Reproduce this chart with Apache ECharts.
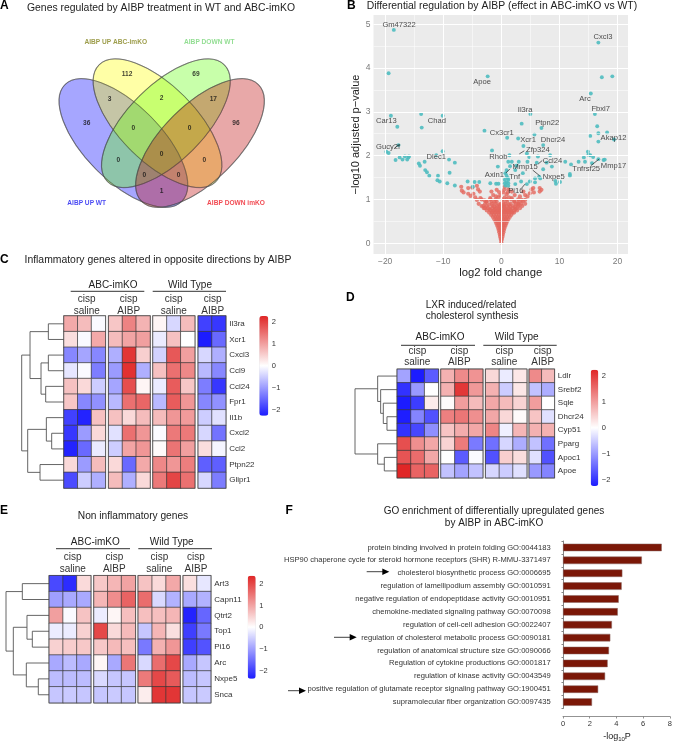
<!DOCTYPE html>
<html><head><meta charset="utf-8">
<style>html,body{margin:0;padding:0;background:#fff}#c{width:675px;height:743px}</style>
<script src="https://cdn.jsdelivr.net/npm/echarts@6/dist/echarts.min.js"></script>
</head><body><div id="c"></div>
<script>
// ---------- DATA ----------
const vennSets = [
  ['AIBP UP WT', 123.4, 143, '#0000ff', -1],
  ['AIBP UP ABC-imKO', 157.5, 123.2, '#ffff00', -1],
  ['AIBP DOWN WT', 165.9, 123.2, '#62ff0c', 1],
  ['AIBP DOWN imKO', 200, 143, '#bd0606', 1]
];
const vennCounts = [[86.7,122.7,36],[127,73.7,112],[109.7,99.3,3],[196,73.7,69],[161.7,97.7,2],[213.3,99.3,17],[236,122.7,96],
  [133.3,128.3,0],[189.7,128.3,0],[118.3,160,0],[161.7,154,0],[204.3,160,0],[144.3,174.7,0],[178.7,174.7,0],[161.7,191.3,1]];
const vennNames = [[115.7,42.3,'AIBP UP ABC-imKO','#85851f'],[209.3,42.3,'AIBP DOWN WT','#78d678'],[86.7,203,'AIBP UP WT','#1a1af0'],[236,203,'AIBP DOWN imKO','#ee1c25']];

const volcanoTeal = [[-18.5,4.87],[-19.4,3.88],[-19,2.91],[-17.9,2.66],[-13.8,2.95],[-13.7,2.64],[-10.1,2.91],[-2.9,2.57],[-2.35,3.81],
 [16.7,4.58],[17.3,3.79],[19.1,3.81],[15.4,3.42],[16.1,2.95],[5,2.95],[3.5,2.73],[6.9,2.63],[5.7,2.48],[1,2.41],[2.9,2.39],[3.8,2.22],[7.2,2.24],
 [16.5,2.67],[16.7,2.51],[18.2,2.53],[15.3,2.45],[16.7,2.32],[19.4,2.37],[-1.6,2.12],[1.4,2.01],[-10.1,2.1],[-17.7,2.24],[-19.8,2.09],[-19.4,2.06],
 [-18.2,1.9],[-17.5,1.96],[-17,1.91],[-16.6,1.98],[-16.2,1.91],[-16,1.96],[-15.9,1.98],[-13.2,1.86],[-14.2,1.82],[-14,1.77],[-13.1,1.67],[-12.8,1.62],
 [-12.4,1.54],[-11.2,2.01],[-9,1.91],[-8,1.84],[-8.9,1.61],[-10.9,1.54],[-11,1.44],[-10.6,1.41],[-9.3,1.37],[-8,1.32],[-5.8,1.41],[-4.6,1.4],[-3.8,1.4],
 [-4.9,1.29],[-1.9,1.37],[-.9,1.36],[-.5,1.36],[-.6,1.75],[1.2,1.86],[1.8,1.86],[3,1.86],[4.5,1.86],[4.8,1.97],[6.3,1.98],[4.4,2.05],[8.4,2.01],[6.1,1.84],
 [7.8,1.84],[8.7,1.75],[7.2,1.69],[11,1.86],[12,1.8],[13.3,1.86],[14.2,1.96],[14.9,2.09],[15,2.02],[15.3,2.01],[15.8,1.97],[14.4,1.86],[15.6,1.83],[16.7,1.92],
 [17.6,1.9],[17.8,1.91],[11.8,1.58],[11.8,1.54],[9.3,1.42],[9.4,1.36],[10.1,1.4],[5.8,1.48],[6.5,1.52],[6.7,1.48],[5.8,1.39],[4.9,1.41],[4.4,1.35],[3.7,1.6],
 [3.4,1.41],[2.6,1.77],[2.4,1.67],[1.5,1.76],[.9,1.67],[.7,1.6],[.9,1.54],[.6,1.45],[1.2,1.45],[.9,1.39],[.6,1.37],[1.2,1.37],[1.1,1.49],[2.4,1.35],[.7,1.32],[1.2,1.31]];
const volcanoRed = [[-6.9,1.29],[-6.8,1.2],[-5.7,1.26],[-5,1.27],[-4.2,1.31],[-6.5,1.16],[-5.7,1.13],[-5.3,1.08],[-4.8,1.13],[-4,1.23],[-3.7,1.18],[-4.5,1.05],
 [-4.2,.99],[-3.4,1],[-3.1,.85],[-2.8,.8],[-2.5,.95],[-1.9,1.03],[-1.7,1.18],[-1.4,1.1],[-.8,1.22],[-.9,1.07],[.6,1.29],[.5,1.22],[1.2,1.23],[1.8,1.18],[2.3,1.1],
 [3.2,1.07],[4.1,1.1],[5.2,1.23],[5.5,1.26],[5.6,1.16],[6.6,1.26],[6.6,1.18],[3.8,1.18],[3.5,.99],[2.9,.9],[2.3,.95],[1.8,1.03],[4.9,1.14],[4.5,1.07],[4.1,.99],[6.9,1.22],
 [0,.02],[0,.06],[-.1,.1],[.1,.1],[-.2,.15],[.2,.15],[-.25,.2],[0,.2],[.25,.2],[-.35,.25],[0,.25],[.35,.25],[-.45,.3],[-.15,.3],[.15,.3],[.45,.3],
 [-.55,.35],[-.2,.35],[.2,.35],[.55,.35],[-.7,.4],[-.35,.4],[0,.4],[.35,.4],[.7,.4],[-.85,.45],[-.5,.45],[-.15,.45],[.15,.45],[.5,.45],[.85,.45],
 [-1,.5],[-.65,.5],[-.3,.5],[0,.5],[.3,.5],[.65,.5],[1,.5],[-1.2,.55],[-.8,.55],[-.4,.55],[0,.55],[.4,.55],[.8,.55],[1.2,.55],
 [-1.45,.6],[-1,.6],[-.6,.6],[-.2,.6],[.2,.6],[.6,.6],[1,.6],[1.45,.6],[-1.75,.65],[-1.3,.65],[-.85,.65],[-.4,.65],[0,.65],[.4,.65],[.85,.65],[1.3,.65],[1.75,.65],
 [-2.1,.7],[-1.6,.7],[-1.1,.7],[-.6,.7],[-.1,.7],[.4,.7],[.9,.7],[1.4,.7],[1.9,.7],[2.2,.7],[-2.5,.75],[-1.9,.75],[-1.3,.75],[-.7,.75],[-.2,.75],[.5,.75],[1,.75],[1.6,.75],[2.2,.75],[2.7,.75],
 [-3,.8],[-2.3,.8],[-1.6,.8],[-.9,.8],[-.2,.8],[.6,.8],[1.3,.8],[2,.8],[2.6,.8],[3.2,.8],[-3.4,.85],[-2.5,.85],[-1.5,.85],[-.7,.85],[.2,.85],[1,.85],[2,.85],[2.9,.85],[3.6,.85],
 [-3.9,.9],[-2.8,.9],[-1.6,.9],[-1,.9],[-.1,.9],[.7,.9],[1.6,.9],[2.5,.9],[3.4,.9],[4.1,.9],[-2.6,.95],[-1.7,.95],[-.8,.95],[.3,.95],[1,.95],[2.2,.95],[3,.95],
 [-1.9,1],[-1,1],[.2,1],[.9,1],[1.7,1],[2.9,1],[-.5,1.05],[.6,1.05],[1.3,1.05],[-.2,1.1],[.9,1.12],[-.4,1.17],[.3,1.16],[1.1,1.16],
 [-1.5,.72],[-.9,.72],[-.3,.72],[.2,.72],[.7,.72],[1.2,.72],[1.7,.72],[-2,.78],[-1.1,.78],[-.4,.78],[.2,.78],[.8,.78],[1.5,.78],[2.4,.78],
 [-1.2,.84],[-.3,.84],[.5,.84],[1.5,.84],[2.4,.84],[-2.1,.88],[-.4,.88],[.4,.88],[1.3,.88],[3,.88],[-3.6,1.03],[-2.9,.98],[-1.2,.95],[3.7,.96]];
const volcanoLabels = [['Gm47322',-17.6,4.98],['Cxcl3',17.5,4.7],['Apoe',-3.3,3.69],['Arc',14.4,3.29],['Il3ra',4.1,3.05],['Fbxl7',17.1,3.07],['Car13',-19.8,2.79],['Chad',-11.1,2.79],
 ['Ptpn22',7.9,2.74],['Cx3cr1',.06,2.52],['Akap12',19.3,2.4],['Xcr1',4.6,2.35],['Dhcr24',8.9,2.35],['Gucy2f',-19.5,2.19],['Zfp324',6.3,2.12],['Rhob',-.5,1.98],['Dlec1',-11.2,1.98],
 ['Ccl24',8.8,1.89],['Mmp15',4.1,1.75],['Mmp17',19.3,1.77],['Tnfrsf25',14.6,1.7],['Axin1',-1.2,1.56],['Tnf',2.3,1.51],['Nxpe5',9,1.52],['Pi16',2.5,1.19]];
const volcanoSegments = [[3.1,2.04,3.95,2.11],[5.4,1.67,6.6,1.54],[.75,1.6,1.5,1.7],[6.35,1.81,7.05,1.89],[15.4,1.77,16.8,1.92],[4.07,1.35,3.5,1.26],[-18.3,2.18,-17.6,2.25]];
const volcanoXTicks = [-20,-10,0,10,20];
const volcanoXMinor = [-15,-5,5,15];
const volcanoYTicks = [0,1,2,3,4,5];
const volcanoYMinor = [.5,1.5,2.5,3.5,4.5];

const blockSizes = [3,3,3,2];
const cGenes = ['Il3ra','Xcr1','Cxcl3','Ccl9','Ccl24','Fpr1','Il1b','Cxcl2','Ccl2','Ptpn22','Glipr1'];
const cValues = [
 [.9,.7,-.05,.6,1.3,.8,.1,-.4,.7,-1.9,-2],
 [.35,-.05,.9,.7,.95,1,-.2,.65,0,-2.3,-1.5],
 [-1.2,-.9,-1.2,-.8,2.1,.5,-.45,1.75,1,-.4,-.8],
 [-.25,-.05,-1.3,-1,2.15,-.8,.65,1.5,1.25,-.7,-1.2],
 [.65,.4,-.5,-.9,1.85,.1,-.2,1.7,.6,-1.3,-2],
 [.6,-1.2,-1.1,-.7,1.5,1.6,-.7,1.7,1.1,-1.2,-1.1],
 [-1.9,-2.2,.65,.65,.4,.7,.7,1.1,1.05,-.5,-.3],
 [-2,-1,.4,-.3,1.5,1.1,-.05,1.4,1.4,-.4,-1.4],
 [-2.2,-1.5,-.2,-.5,.95,1.1,.05,1.45,1,.35,-.1],
 [.4,-1,.7,.4,-1.5,.9,1.25,1.1,1.35,-1.6,-1.6],
 [-1.8,-.5,-.8,.7,-.8,.4,1.4,1.95,1.5,-.4,-1.3]];
const cTree = [[0,1,47],[2,3,47],[4,5,55],[-2,-3,69],[-1,-4,102],[7,8,37],[6,-6,53],[9,10,72],[-7,-8,109],[-5,-9,127]];

const dGenes = ['Ldlr','Srebf2','Sqle','Dhcr24','Cyp51','Pparg','Apoc1','Apoe'];
const dValues = [
 [-.9,-2.3,-1.6,.8,1.2,1.1,.4,-.2,.25,1.2,.7],
 [-2,-1,0,.8,2.05,1.05,.8,-.5,.25,-.6,-.8],
 [-2.3,-1.9,.2,.05,1,.7,.9,.7,.45,1,0],
 [-2.2,-1.2,-1.7,1.3,1.4,1.15,.9,.4,.05,.6,-.3],
 [-2,-1.8,-1.1,.6,.85,.9,1.25,-.15,.75,.8,.8],
 [1.8,1.15,.9,.45,1.35,-1.3,-1.4,-.4,-.8,-.6,-1.4],
 [1.75,1.5,.9,0,-1.6,-.05,-1.7,.5,.35,-.3,-1.7],
 [2.25,1.6,1.6,-.6,-.9,-.6,-.4,-.5,-.3,-1,-1.2]];
const dTree = [[3,4,31],[2,-1,42],[1,-2,50],[0,-3,59],[6,7,39],[5,-5,59],[-4,-6,127]];

const eGenes = ['Art3','Capn11','Qtrt2','Top1','Pi16','Arc','Nxpe5','Snca'];
const eValues = [
 [-1.9,-2.2,.4,.6,.8,1,.65,.4,.95,.35,-.25],
 [-1,-.9,-.9,.8,1.25,1.7,1.6,-.4,-.8,-.9,-.8],
 [1.05,-.05,.65,-.2,.1,.7,.7,.7,.8,-2.3,-1.6],
 [-.2,-.2,.5,2,.4,.75,-.6,.8,.35,-2,-1.4],
 [.5,.55,.6,.6,.75,.7,-1.4,.85,1.15,-2,-1.8],
 [-.9,-.7,-.9,.1,-.9,1.5,-.4,1.6,2,-.9,-.6],
 [-.7,-.7,-.7,-.4,-.6,-.6,1.45,2,1.8,-.7,-.6],
 [-.6,-.55,-.6,-.6,-.55,-.6,.2,2.2,2.2,-.6,-.55]];
const eTree = [[0,1,81],[3,4,51],[2,-2,67],[6,7,33],[5,-4,69],[-3,-5,108],[-1,-6,130]];

const colorbarTicks = [-2,-1,0,1,2];
const goTerms = ['protein binding involved in protein folding GO:0044183','HSP90 chaperone cycle for steroid hormone receptors (SHR) R-MMU-3371497','cholesterol biosynthetic process GO:0006695',
 'regulation of lamellipodium assembly GO:0010591','negative regulation of endopeptidase activity GO:0010951','chemokine-mediated signaling pathway GO:0070098','regulation of cell-cell adhesion GO:0022407',
 'regulation of cholesterol metabolic process GO:0090181','regulation of anatomical structure size GO:0090066','Regulation of cytokine productions GO:0001817','regulation of kinase activity GO:0043549',
 'positive regulation of glutamate receptor signaling pathway GO:1900451','supramolecular fiber organization GO:0097435'];
const goValues = [7.39,5.9,4.44,4.39,4.17,4.1,3.66,3.54,3.44,3.34,3.15,2.63,2.17];

// ---------- BUILD ----------
const FONT = '"Liberation Sans", Arial, sans-serif';
const grid=[], xAxis=[], yAxis=[], series=[], visualMap=[], graphic=[];
const minus = v => String(v).replace('-', '\u2212');
function txt(x,y,text,size,opt={}){ graphic.push({type:'text',x,y,silent:true,style:{text,fill:opt.fill||'#222',
  font:(opt.bold?'bold ':'')+size+'px '+FONT,textAlign:opt.align||'left',textVerticalAlign:'middle'}}); }
function hideAxis(extra){ return Object.assign({show:false},extra); }
function addGrid(g,x,y){ const i=grid.length; grid.push(Object.assign({containLabel:false},g));
  xAxis.push(Object.assign({gridIndex:i},x)); yAxis.push(Object.assign({gridIndex:i},y)); return i; }

// Panel A
const va = addGrid({left:0,top:0,width:335,height:250},hideAxis({type:'value',min:0,max:335}),hideAxis({type:'value',min:0,max:250,inverse:true}));
series.push({type:'custom',xAxisIndex:va,yAxisIndex:va,silent:true,z:2,encode:{x:1,y:2},data:vennSets.map(s=>[s[0],s[1],s[2],s[3],s[4]]),
  renderItem(params,api){ const i=params.dataIndex, s=vennSets[i], c=api.coord([s[1],s[2]]);
    return {type:'ellipse',x:c[0],y:c[1],rotation:s[4]*Math.PI/4,shape:{cx:0,cy:0,rx:82.6,ry:38},
      style:{fill:s[3],opacity:.35,stroke:'#000',lineWidth:1.1}}; }});
series.push({type:'custom',xAxisIndex:va,yAxisIndex:va,silent:true,z:3,encode:{x:1,y:2},data:vennSets.map(s=>[s[0],s[1],s[2]]),
  renderItem(params,api){ const i=params.dataIndex, s=vennSets[i], c=api.coord([s[1],s[2]]);
    return {type:'ellipse',x:c[0],y:c[1],rotation:s[4]*Math.PI/4,shape:{cx:0,cy:0,rx:82.6,ry:38},
      style:{fill:'none',stroke:'#555',opacity:.7,lineWidth:.8}}; }});
series.push({type:'scatter',xAxisIndex:va,yAxisIndex:va,symbolSize:0,silent:true,z:5,data:vennCounts.map(v=>({value:v})),
  label:{show:true,position:'inside',formatter:p=>String(p.value[2]),fontSize:6.6,fontWeight:'bold',color:'#111',fontFamily:FONT}});
series.push({type:'scatter',xAxisIndex:va,yAxisIndex:va,symbolSize:0,silent:true,z:5,data:vennNames.map(v=>({value:v.slice(0,3),label:{color:v[3]}})),
  label:{show:true,position:'inside',formatter:p=>p.value[2],fontSize:6.6,fontWeight:'bold',fontFamily:FONT}});

// Panel B
const vg = addGrid({left:373.5,top:15,width:254.5,height:239,show:true,backgroundColor:'#ebebeb',borderWidth:0},
 {type:'value',min:-22,max:21.8,name:'log2 fold change',nameLocation:'middle',nameGap:12,nameTextStyle:{fontSize:11.3,color:'#222',fontFamily:FONT},
  splitLine:{show:false},axisLine:{show:false},axisTick:{show:true,length:2,lineStyle:{color:'#777'},customValues:volcanoXTicks},
  axisLabel:{customValues:volcanoXTicks,formatter:minus,fontSize:8.5,color:'#7a7a7a',margin:3,fontFamily:FONT}},
 {type:'value',min:-.245,max:5.21,name:'\u2212log10 adjusted p\u2212value',nameLocation:'middle',nameGap:8,nameTextStyle:{fontSize:11,color:'#222',fontFamily:FONT},
  splitLine:{show:false},axisLine:{show:false},axisTick:{show:true,length:2,lineStyle:{color:'#777'},customValues:volcanoYTicks},
  axisLabel:{customValues:volcanoYTicks,fontSize:8.5,color:'#7a7a7a',margin:3,fontFamily:FONT}});
const ml=(w,data)=>({silent:true,symbol:'none',animation:false,label:{show:false},lineStyle:{color:'#fff',width:w,type:'solid'},data});
series.push({type:'scatter',xAxisIndex:vg,yAxisIndex:vg,data:[],z:1,silent:true,
  markLine:ml(.5,volcanoXMinor.map(v=>({xAxis:v})).concat(volcanoYMinor.map(v=>({yAxis:v}))))});
series.push({type:'scatter',xAxisIndex:vg,yAxisIndex:vg,data:[],z:1,silent:true,
  markLine:ml(1.1,volcanoXTicks.map(v=>({xAxis:v})).concat(volcanoYTicks.map(v=>({yAxis:v}))))});
series.push({type:'scatter',xAxisIndex:vg,yAxisIndex:vg,data:volcanoRed,symbolSize:4.2,itemStyle:{color:'#e4675d'},silent:true,z:3});
series.push({type:'scatter',xAxisIndex:vg,yAxisIndex:vg,data:volcanoTeal,symbolSize:3.9,itemStyle:{color:'#4fbcc0',opacity:.9},silent:true,z:4});
series.push({type:'lines',coordinateSystem:'cartesian2d',xAxisIndex:vg,yAxisIndex:vg,silent:true,z:5,polyline:false,
  data:volcanoSegments.map(s=>({coords:[[s[0],s[1]],[s[2],s[3]]]})),lineStyle:{color:'#222',width:.7,opacity:1}});
series.push({type:'scatter',xAxisIndex:vg,yAxisIndex:vg,symbolSize:0,silent:true,z:6,data:volcanoLabels.map(l=>({value:[l[1],l[2]],name:l[0]})),
  label:{show:true,position:'inside',formatter:p=>p.name,fontSize:7.6,color:'#222',fontFamily:FONT}});

// Heatmap panels
function heatPanel(c){
  const n=c.genes.length; const idx=[]; let col=0;
  c.blocks.forEach((b,bi)=>{
    const size=blockSizes[bi]; const last=bi===c.blocks.length-1;
    const g=addGrid({left:b[0],top:c.top,width:b[1]-b[0],height:c.height,show:true,borderColor:'#8a8a8a',borderWidth:1.6,backgroundColor:'#fff'},
      hideAxis({type:'category',data:Array.from({length:size},(_,i)=>i)}),
      {type:'category',data:c.genes,inverse:true,position:'right',show:last,axisLine:{show:false},axisTick:{show:false},
       axisLabel:{show:last,fontSize:8,color:'#333',margin:3.5,fontFamily:FONT}});
    const data=[]; for(let r=0;r<n;r++) for(let k=0;k<size;k++) data.push([k,r,c.values[r][col+k]]);
    idx.push(series.length);
    series.push({type:'heatmap',xAxisIndex:g,yAxisIndex:g,data,silent:true,z:3,itemStyle:{borderColor:'#3a3a3a',borderWidth:.7},emphasis:{disabled:true}});
    col+=size;
  });
  // dendrogram
  const dg=addGrid({left:c.treeLeft,top:c.top,width:c.blocks[0][0]-c.treeLeft,height:c.height},
    hideAxis({type:'value',min:0,max:c.treeMax,inverse:true}),hideAxis({type:'value',min:0,max:n,inverse:true}));
  const merged=[]; const pos=ref=>ref>=0?[0,ref+.5]:merged[-ref-1];
  const paths=c.tree.map(m=>{const a=pos(m[0]),b=pos(m[1]);merged.push([m[2],(a[1]+b[1])/2]);
    return {coords:[a,[m[2],a[1]],[m[2],b[1]],b]};});
  series.push({type:'lines',coordinateSystem:'cartesian2d',polyline:true,xAxisIndex:dg,yAxisIndex:dg,silent:true,data:paths,lineStyle:{color:'#555',width:.9,opacity:1}});
  // colour bar
  visualMap.push({type:'continuous',min:-c.barMax,max:c.barMax,seriesIndex:idx,dimension:2,calculable:false,realtime:false,
    inRange:{color:['#1c1cff','#ffffff','#e02626']},left:c.bar[0],top:c.bar[2],itemWidth:c.bar[1]-c.bar[0],itemHeight:c.bar[3]-c.bar[2],padding:0,text:null,showLabel:false,hoverLink:false});
  addGrid({left:c.bar[0],top:c.bar[2],width:c.bar[1]-c.bar[0],height:c.bar[3]-c.bar[2]},
    hideAxis({type:'value',min:0,max:1}),
    {type:'value',position:'right',min:-c.barMax,max:c.barMax,splitLine:{show:false},axisLine:{show:false},axisTick:{show:false,customValues:colorbarTicks},
     axisLabel:{customValues:colorbarTicks,formatter:minus,fontSize:7.5,color:'#333',margin:3.5,fontFamily:FONT}});
  // headers
  c.headers.forEach(h=>{ txt(h[0],c.h1,h[1],10,{align:'center'});
    graphic.push({type:'line',silent:true,shape:{x1:h[2],y1:c.hl,x2:h[3],y2:c.hl},style:{stroke:'#333',lineWidth:1}}); });
  c.groups.forEach((g,i)=>{ txt(g,c.h2,'cisp',10,{align:'center',fill:'#333'}); txt(g,c.h3,i%2?'AIBP':'saline',10,{align:'center',fill:'#333'}); });
}
heatPanel({genes:cGenes,values:cValues,tree:cTree,treeMax:127,treeLeft:21.7,top:316,height:172,
 blocks:[[64,105.3],[108.7,150],[153,194.7],[198.3,225.7]],bar:[259.3,268.3,316,415.7],barMax:2.27,
 headers:[[113,'ABC-imKO',70.7,144.3],[190,'Wild Type',152.7,226]],groups:[86.7,128.7,173.7,212.7],h1:285,hl:291.3,h2:299.3,h3:311});
heatPanel({genes:dGenes,values:dValues,tree:dTree,treeMax:127,treeLeft:355,top:369.3,height:108.4,
 blocks:[[397.3,438.3],[441,482.7],[485.7,526.7],[529.3,554.3]],bar:[590.7,598.3,369.7,486],barMax:2.22,
 headers:[[440,'ABC-imKO',401,475],[516.7,'Wild Type',483.3,556.7]],groups:[417.3,459.3,504.3,542.7],h1:337.7,hl:345.3,h2:351,h3:362.3});
heatPanel({genes:eGenes,values:eValues,tree:eTree,treeMax:130,treeLeft:6,top:575.7,height:127,
 blocks:[[49.3,90.7],[94,135.3],[138.3,180],[183.3,210.7]],bar:[247.7,255.7,575.7,678.7],barMax:2.37,
 headers:[[95.3,'ABC-imKO',56,130],[171.7,'Wild Type',138.3,212]],groups:[72.7,114.3,159.3,196],h1:542,hl:548.7,h2:557.7,h3:569});

// Panel F
const bg=addGrid({left:563,top:541,width:109.3,height:167.5},
 {type:'value',min:0,max:8,interval:2,offset:8,splitLine:{show:false},axisLine:{show:true,lineStyle:{color:'#777',width:.8}},axisTick:{show:true,length:2,lineStyle:{color:'#777',width:.8}},
  axisLabel:{fontSize:7.5,color:'#333',margin:3,fontFamily:FONT}},
 {type:'category',data:goTerms,inverse:true,offset:11.3,axisLine:{show:true,lineStyle:{color:'#666',width:.8}},axisTick:{show:true,length:1.5,lineStyle:{color:'#666',width:.8}},
  axisLabel:{fontSize:7.6,color:'#333',margin:1,interval:0,fontFamily:FONT}});
series.push({type:'bar',xAxisIndex:bg,yAxisIndex:bg,data:goValues,barWidth:7.5,silent:true,itemStyle:{color:'#7b1707',borderColor:'#8a6a66',borderWidth:.5}});

// Titles and annotation
txt(27,8,'Genes regulated by AIBP treatment in WT and ABC-imKO',10.4);
txt(366.7,6.5,'Differential regulation by AIBP (effect in ABC-imKO vs WT)',10.4);
txt(24.5,260,'Inflammatory genes altered in opposite directions by AIBP',10.4);
txt(425.7,305,'LXR induced/related',10); txt(425.7,316.7,'cholesterol synthesis',10);
txt(133,516,'Non inflammatory genes',10.2,{align:'center'});
txt(494,511.3,'GO enrichment of differentially upregulated genes',10,{align:'center'});
txt(494,523,'by AIBP in ABC-imKO',10,{align:'center'});
[['A',0,6],['B',347,6],['C',0,260],['D',346,297.7],['E',0,511],['F',285.5,511]].forEach(l=>txt(l[1],l[2],l[0],12,{bold:true,fill:'#000'}));
graphic.push({type:'text',x:617,y:737,silent:true,style:{rich:{a:{fontSize:9,fontFamily:FONT,fill:'#222'},s:{fontSize:6,fontFamily:FONT,fill:'#222',verticalAlign:'bottom',padding:[5,0,0,0]}},text:'{a|-log}{s|10}{a|P}',textAlign:'center',textVerticalAlign:'middle'}});
[[366.7,389.3,571.7],[334,356.7,637.3],[288,306,690.7]].forEach(a=>{
  graphic.push({type:'line',silent:true,shape:{x1:a[0],y1:a[2],x2:a[1]-6,y2:a[2]},style:{stroke:'#111',lineWidth:.8}});
  graphic.push({type:'polygon',silent:true,shape:{points:[[a[1]-7,a[2]-3.2],[a[1],a[2]],[a[1]-7,a[2]+3.2]]},style:{fill:'#000'}});
});

const chart=echarts.init(document.getElementById('c'),null,{renderer:'canvas'});
chart.setOption({animation:false,backgroundColor:'#fff',textStyle:{fontFamily:FONT},tooltip:{show:false},grid,xAxis,yAxis,series,visualMap,graphic});
</script></body></html>
